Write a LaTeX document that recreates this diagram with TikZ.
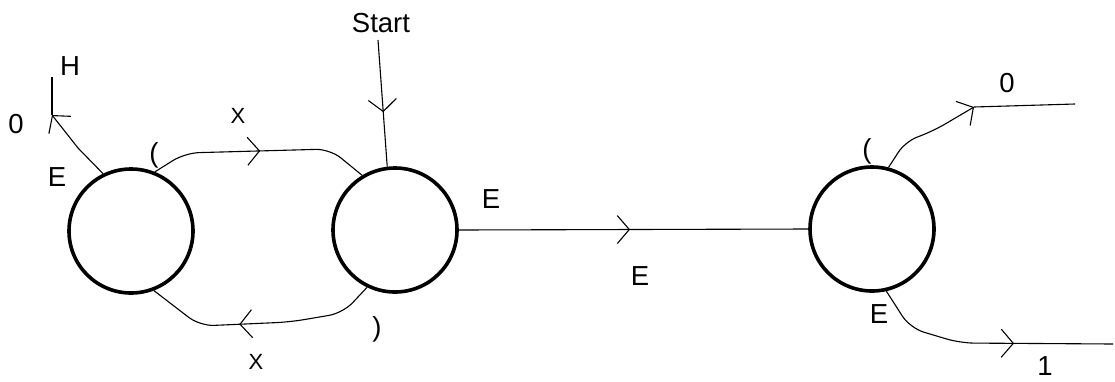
\documentclass[tikz,border=0pt]{standalone}
\usepackage{fontspec}
\setmainfont{Liberation Sans}
\usetikzlibrary{arrows.meta,decorations.markings}
\tikzset{
  state/.style={circle,draw,line width=3.6pt,minimum size=124pt,inner sep=0pt},
  edge/.style={line width=1.1pt},
  tip/.style={-{Straight Barb[length=12pt,width=28pt,line width=1.1pt]}},
  midarrow/.style={postaction={decorate},decoration={markings,
     mark=at position #1 with {\arrow{Straight Barb[length=12pt,width=28pt,line width=1.1pt]}}}},
  lbl/.style={inner sep=0pt,font=\fontsize{27.5}{27.5}\selectfont},
  lbls/.style={inner sep=0pt,font=\fontsize{22}{22}\selectfont}
}
\begin{document}
\begin{tikzpicture}[x=1pt,y=-1pt]
\useasboundingbox[fill=white] (0,0) rectangle (1115,381);
% states
\node[state] (c1) at (131,231) {};
\node[state] (c2) at (395,230) {};
\node[state] (c3) at (872,229) {};
% free ends
\coordinate (sTop) at (378,40);
\coordinate (hTip) at (52,115);
\coordinate (hTop) at (52,77);
\coordinate (rTip) at (974,107);
\coordinate (rEnd) at (1075,104);
\coordinate (bEnd) at (1113,344);
% connectors
\draw[edge,midarrow=0.57] (sTop) -- (c2.97);
\draw[edge,tip] (c1.116) -- (78,148) -- (hTip);
\draw[edge] (hTip) -- (hTop);
\draw[edge,rounded corners=14pt,midarrow=0.5] (c1.68) -- (185,153) -- (330,149) -- (c2.121);
\draw[edge,rounded corners=14pt,midarrow=0.59] (c2.-116) -- (343,313) -- (290,322) -- (200,326) -- (c1.-69);
\draw[edge,midarrow=0.49] (c2.east) -- (c3.west);
\draw[edge,tip,rounded corners=12pt] (c3.75) -- (905,142) -- (935,130) -- (rTip);
\draw[edge] (rTip) -- (rEnd);
\draw[edge,rounded corners=14pt,midarrow=0.6] (c3.-77) -- (910,328) -- (960,343) -- (bEnd);
% labels
\node[lbl] (tStart) at (381,23) {Start};
\node[lbl] (tH) at (70,66) {H};
\node[lbl] (t0a) at (16,124) {0};
\node[lbl] (tE1) at (57,177) {E};
\node[lbl] (tpar1) at (154,155) {(};
\node[lbls] (tX1) at (238,116) {X};
\node[lbls] (tX2) at (256,362) {X};
\node[lbl] (tpar2) at (377,329) {)};
\node[lbl] (tE2) at (491,199) {E};
\node[lbl] (tE3) at (640,276) {E};
\node[lbl] (tpar3) at (867,151) {(};
\node[lbl] (t0b) at (1007,83) {0};
\node[lbl] (tE4) at (879,314) {E};
\node[lbl] (t1) at (1045,366) {1};
\end{tikzpicture}
\end{document}
